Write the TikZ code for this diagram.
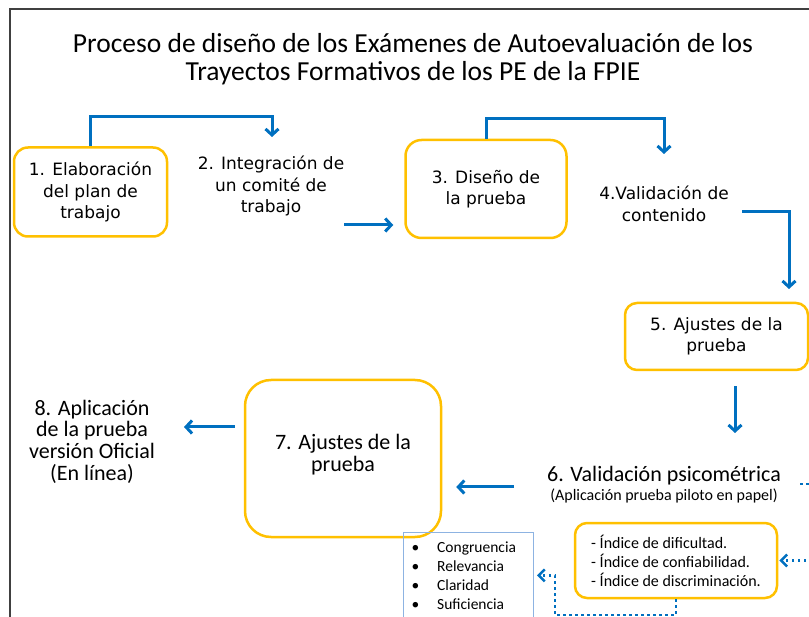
\documentclass[tikz,border=0pt]{standalone}
\usepackage{fontspec}
\setmainfont{Carlito}
\newfontfamily\verd{DejaVu Sans}
\usetikzlibrary{arrows.meta}
\definecolor{azul}{RGB}{0,112,192}
\definecolor{oro}{RGB}{255,192,0}
\definecolor{celeste}{RGB}{141,179,226}
\definecolor{marco}{RGB}{64,64,64}
\begin{document}
\begin{tikzpicture}[x=1pt,y=-1pt,
    caja/.style={draw=oro,line width=2.5pt,rounded corners=14pt,align=center},
    texto/.style={align=center,font=\verd\fontsize{17}{21.5}\selectfont},
    flecha/.style={draw=azul,line width=3pt,-{Straight Barb[length=6pt,width=13pt]}},
    punteado/.style={draw=azul,line width=2.5pt,dash pattern=on 2.5pt off 3.5pt,-{Straight Barb[length=6pt,width=12pt]}}]
    \useasboundingbox (0,0) rectangle (809,617);
    \clip (0,0) rectangle (809,617);
    \draw[marco,line width=1.5pt] (10,620) -- (10,9) -- (812,9);

    \node[align=center,font=\fontsize{27.5}{28}\selectfont] (titulo) at (413,59) {Proceso de diseño de los Exámenes de Autoevaluación de los\\Trayectos Formativos de los PE de la FPIE};

    % fila de arriba
    \node[caja,texto,minimum width=153pt,minimum height=89pt] (b1) at (90.5,192) {1. Elaboración\\del plan de\\trabajo};
    \node[texto] (t2) at (271,186) {2. Integración de\\un comité de\\trabajo};
    \node[caja,texto,minimum width=161pt,minimum height=98pt,rounded corners=16pt] (b3) at (486,189) {3. Diseño de\\la prueba};
    \node[texto] (t4) at (664,204) {4.Validación de\\contenido};
    \node[caja,texto,minimum width=183pt,minimum height=67pt,rounded corners=12pt] (b5) at (716.5,336.5) {5. Ajustes de la\\prueba};

    % fila de abajo
    \node[caja,minimum width=196pt,minimum height=157pt,rounded corners=26pt,font=\fontsize{22}{22}\selectfont] (b7) at (343,458.5) {7. Ajustes de la\\prueba\\[-10pt]\mbox{}};
    \node[align=center,font=\fontsize{22}{21.7}\selectfont] (t8) at (92,441.5) {8. Aplicación\\de la prueba\\versión Oficial\\(En línea)};
    \node[align=center,font=\fontsize{22}{22}\selectfont] (t6) at (664,485) {6. Validación psicométrica\\[-3pt]{\fontsize{16}{16}\selectfont(Aplicación prueba piloto en papel)}};
    \node[caja,rounded corners=12pt,minimum width=202pt,minimum height=75pt,align=left,font=\fontsize{16}{19}\selectfont] (ix) at (676,560.5) {- Índice de dificultad.\\- Índice de confiabilidad.\\- Índice de discriminación.};
    \node[draw=celeste,line width=1pt,anchor=north west,align=left,text width=114pt,inner xsep=8pt,inner ysep=9pt,font=\fontsize{15.5}{19}\selectfont] (bl) at (403,532) {\textbullet\hspace{18pt}Congruencia\\\textbullet\hspace{18pt}Relevancia\\\textbullet\hspace{18pt}Claridad\\\textbullet\hspace{18pt}Suficiencia};

    \coordinate (e2) at (272,137);
    \coordinate (s2) at (344,225);
    \coordinate (e4) at (664,154);
    \coordinate (s4) at (742,212);
    \coordinate (e5) at (789,289);
    \coordinate (e6) at (735,433);
    \coordinate (s6) at (514,487);
    \coordinate (e8) at (184,427);
    \coordinate (d1) at (555,615);
    \coordinate (r1) at (812,560.5);
    \coordinate (r2) at (800,484);
    \coordinate (r3) at (812,484);

    \draw[flecha] (b1.north) -- ++(0,-30) -| (e2);
    \draw[flecha,shorten >=11pt] (s2) -- (b3.west |- s2);
    \draw[flecha] (b3.north) -- ++(0,-20) -| (e4);
    \draw[flecha] (s4) -| (e5);
    \draw[flecha,shorten <=15pt] (b5.south -| e6) -- (e6);
    \draw[flecha,shorten >=14pt] (s6) -- (b7.east |- s6);
    \draw[flecha,shorten <=9pt] (b7.west |- e8) -- (e8);

    \draw[punteado,shorten >=3pt] (ix.south) |- (d1) |- (bl.east);
    \draw[punteado,shorten >=1pt] (r1) -- (ix.east);
    \draw[punteado,-] (r2) -- (r3);
\end{tikzpicture}
\end{document}
